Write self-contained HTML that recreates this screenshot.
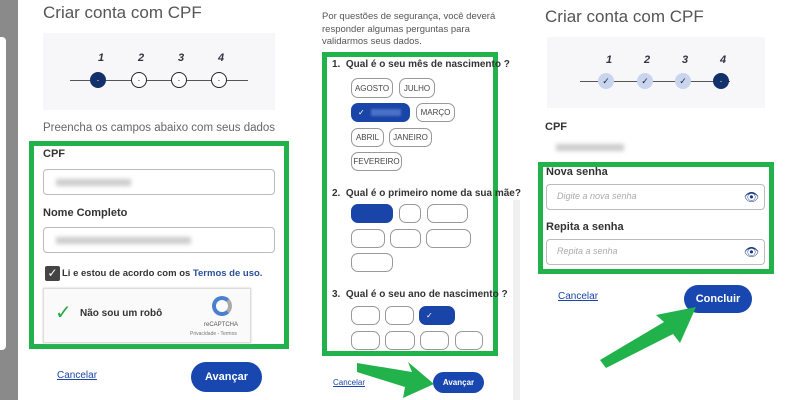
<!DOCTYPE html>
<html><head><meta charset="utf-8"><style>
*{margin:0;padding:0;box-sizing:border-box}
body{width:800px;height:400px;position:relative;background:#fff;font-family:"Liberation Sans",sans-serif;overflow:hidden;color:#333}
.a{position:absolute}
.t{font-size:17px;color:#555;white-space:nowrap}
.lbl{font-size:11px;font-weight:bold;color:#333;white-space:nowrap}
.inp{position:absolute;border:1px solid #bbb;border-radius:4px;background:#fff}
.blur{position:absolute;background:#ccc;filter:blur(2px);height:7px}
.g{position:absolute;border:5px solid #22b24c}
.opt{position:absolute;border:1.3px solid #999;border-radius:7px;font-size:8px;color:#444;display:flex;align-items:center;justify-content:center;background:#fff}
.sel{background:#1a45a8;border-color:#1a45a8;color:#fff;justify-content:flex-start;padding-left:6px}
.q{position:absolute;font-size:10px;font-weight:bold;color:#333;white-space:nowrap}
.btn{position:absolute;background:#1847b0;color:#fff;border-radius:16px;font-size:11px;font-weight:bold;display:flex;align-items:center;justify-content:center}
.link{position:absolute;font-size:10px;color:#1a45a8;text-decoration:underline}
.step{position:absolute;background:#f7f7f9}
.num{position:absolute;font-size:11px;font-style:italic;color:#334;font-weight:bold}
.c{position:absolute;width:16px;height:16px;border-radius:50%;border:1.3px solid #223;background:#fff;font-size:9px;display:flex;align-items:center;justify-content:center;color:#223}
</style></head><body>
<div class="a" style="left:0;top:0;width:18px;height:400px;background:#8a8a8a"></div>
<div class="a" style="left:0;top:37px;width:6px;height:313px;background:#fff;border-radius:0 4px 4px 0"></div>

<!-- LEFT -->
<div class="a t" style="left:43px;top:3px">Criar conta com CPF</div>
<div class="step" style="left:43px;top:33px;width:232px;height:77px"></div>
<div class="a" style="left:70px;top:80px;width:178px;height:1px;background:#555"></div>
<div class="num" style="left:98px;top:52px">1</div><div class="num" style="left:138px;top:52px">2</div><div class="num" style="left:178px;top:52px">3</div><div class="num" style="left:218px;top:52px">4</div>
<div class="c" style="left:90px;top:72px;background:#12306a;border-color:#12306a;color:#fff">·</div>
<div class="c" style="left:131px;top:72px">·</div>
<div class="c" style="left:171px;top:72px">·</div>
<div class="c" style="left:211px;top:72px">·</div>
<div class="a" style="left:43px;top:122px;font-size:11.5px;color:#666;white-space:nowrap">Preencha os campos abaixo com seus dados</div>
<div class="g" style="left:29px;top:141px;width:260px;height:208px"></div>
<div class="a lbl" style="left:43px;top:148px">CPF</div>
<div class="inp" style="left:43px;top:169px;width:232px;height:26px"></div>
<div class="blur" style="left:56px;top:179px;width:75px"></div>
<div class="a lbl" style="left:43px;top:207px">Nome Completo</div>
<div class="inp" style="left:43px;top:227px;width:232px;height:26px"></div>
<div class="blur" style="left:56px;top:237px;width:135px"></div>
<div class="a" style="left:45px;top:266px;width:15px;height:15px;background:#444;border-radius:2px;color:#fff;font-size:12px;line-height:15px;text-align:center">✓</div>
<div class="a" style="left:62px;top:268px;font-size:9.5px;font-weight:bold;color:#333;white-space:nowrap">Li e estou de acordo com os <span style="color:#2a4f9a">Termos de uso.</span></div>
<div class="a" style="left:43px;top:288px;width:208px;height:55px;border:1px solid #ddd;background:#fafafa;box-shadow:0 0 2px #ccc"></div>
<div class="a" style="left:55px;top:300px;font-size:20px;color:#2aa84a">✓</div>
<div class="a" style="left:80px;top:308px;font-size:10px;font-weight:bold;color:#333">Não sou um robô</div>
<div class="a" style="left:212px;top:296px;width:20px;height:20px;border-radius:50%;border:4px solid #4a80d0;border-right-color:#aaa"></div>
<div class="a" style="left:204px;top:322px;font-size:6px;color:#555">reCAPTCHA</div>
<div class="a" style="left:190px;top:331px;font-size:5px;color:#777">Privacidade - Termos</div>
<div class="link" style="left:57px;top:370px">Cancelar</div>
<div class="btn" style="left:191px;top:362px;width:71px;height:30px">Avançar</div>

<!-- MIDDLE -->
<div class="a" style="left:322px;top:11px;font-size:9.5px;color:#555;line-height:12.5px">Por questões de segurança, você deverá<br>responder algumas perguntas para<br>validarmos seus dados.</div>
<div class="g" style="left:322px;top:52px;width:176px;height:304px"></div>
<div class="q" style="left:332px;top:59px">1.&nbsp; Qual é o seu mês de nascimento ?</div>
<div class="opt" style="left:351px;top:78px;width:42px;height:20px">AGOSTO</div>
<div class="opt" style="left:399px;top:78px;width:36px;height:20px">JULHO</div>
<div class="opt sel" style="left:351px;top:103px;width:59px;height:19px">✓ <span style="display:inline-block;width:30px;height:7px;background:#4a70c8;margin-left:6px;filter:blur(1px)"></span></div>
<div class="opt" style="left:416px;top:103px;width:39px;height:19px">MARÇO</div>
<div class="opt" style="left:351px;top:128px;width:33px;height:19px">ABRIL</div>
<div class="opt" style="left:389px;top:128px;width:43px;height:19px">JANEIRO</div>
<div class="opt" style="left:351px;top:152px;width:51px;height:19px">FEVEREIRO</div>
<div class="q" style="left:332px;top:188px">2.&nbsp; Qual é o primeiro nome da sua mãe?</div>
<div class="opt sel" style="left:351px;top:204px;width:42px;height:19px"></div>
<div class="opt" style="left:399px;top:204px;width:22px;height:19px"></div>
<div class="opt" style="left:427px;top:204px;width:41px;height:19px"></div>
<div class="opt" style="left:351px;top:229px;width:34px;height:19px"></div>
<div class="opt" style="left:390px;top:229px;width:31px;height:19px"></div>
<div class="opt" style="left:426px;top:229px;width:45px;height:19px"></div>
<div class="opt" style="left:351px;top:253px;width:42px;height:19px"></div>
<div class="q" style="left:332px;top:289px">3.&nbsp; Qual é o seu ano de nascimento ?</div>
<div class="opt" style="left:351px;top:306px;width:29px;height:19px"></div>
<div class="opt" style="left:385px;top:306px;width:29px;height:19px"></div>
<div class="opt sel" style="left:419px;top:306px;width:36px;height:19px">✓</div>
<div class="opt" style="left:351px;top:331px;width:29px;height:19px"></div>
<div class="opt" style="left:385px;top:331px;width:30px;height:19px"></div>
<div class="opt" style="left:420px;top:331px;width:29px;height:19px"></div>
<div class="opt" style="left:455px;top:331px;width:28px;height:19px"></div>
<div class="link" style="left:333px;top:378px;font-size:8px">Cancelar</div>
<div class="btn" style="left:433px;top:372px;width:51px;height:21px;font-size:8px">Avançar</div>
<div class="a" style="left:513px;top:200px;width:7px;height:200px;background:#f0f0f0"></div>

<!-- RIGHT -->
<div class="a t" style="left:545px;top:7px">Criar conta com CPF</div>
<div class="step" style="left:547px;top:37px;width:218px;height:71px"></div>
<div class="a" style="left:580px;top:81px;width:150px;height:1px;background:#555"></div>
<div class="num" style="left:606px;top:54px">1</div><div class="num" style="left:644px;top:54px">2</div><div class="num" style="left:682px;top:54px">3</div><div class="num" style="left:720px;top:54px">4</div>
<div class="c" style="left:598px;top:73px;background:#c9d4ee;border-color:#c9d4ee">✓</div>
<div class="c" style="left:637px;top:73px;background:#c9d4ee;border-color:#c9d4ee">✓</div>
<div class="c" style="left:675px;top:73px;background:#c9d4ee;border-color:#c9d4ee">✓</div>
<div class="c" style="left:713px;top:73px;background:#12306a;border-color:#12306a;color:#fff">·</div>
<div class="a lbl" style="left:545px;top:121px">CPF</div>
<div class="blur" style="left:556px;top:144px;width:68px"></div>
<div class="g" style="left:538px;top:162px;width:236px;height:112px"></div>
<div class="a lbl" style="left:546px;top:166px">Nova senha</div>
<div class="inp" style="left:546px;top:184px;width:219px;height:26px"></div>
<div class="a" style="left:557px;top:191px;font-size:9px;font-style:italic;color:#aaa">Digite a nova senha</div>
<div class="a" style="left:744px;top:190px;font-size:12px;color:#1a3a80">👁</div>
<div class="a lbl" style="left:546px;top:221px">Repita a senha</div>
<div class="inp" style="left:546px;top:239px;width:219px;height:26px"></div>
<div class="a" style="left:557px;top:246px;font-size:9px;font-style:italic;color:#aaa">Repita a senha</div>
<div class="a" style="left:744px;top:245px;font-size:12px;color:#1a3a80">👁</div>
<div class="link" style="left:558px;top:291px">Cancelar</div>
<div class="btn" style="left:684px;top:285px;width:68px;height:28px">Concluir</div>

<svg class="a" style="left:0;top:0" width="800" height="400">
<polygon fill="#22b24c" points="357,363 412,372 408,362 434,384 403,398 405,387 357,372"/>
<polygon fill="#22b24c" points="600,360 664,322 656,315 696,307 680,343 673,334 606,368"/>
</svg>
</body></html>
